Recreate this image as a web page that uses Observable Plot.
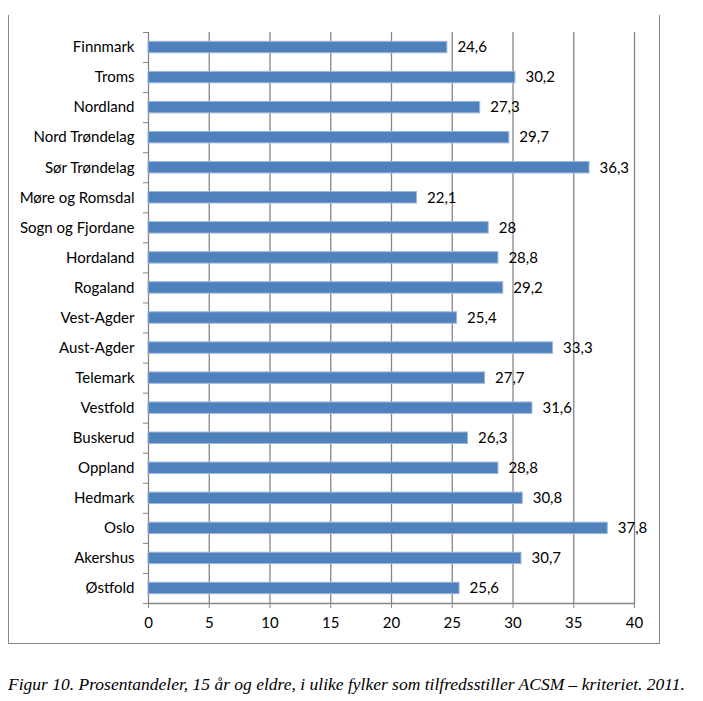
<!DOCTYPE html>
<html>
<head>
<meta charset="utf-8">
<script src="https://cdn.jsdelivr.net/npm/d3@7"></script>
<script src="https://cdn.jsdelivr.net/npm/@observablehq/plot@0.6"></script>
<style>
  html, body { margin: 0; padding: 0; background: #fff; }
  #wrap { position: relative; width: 703px; height: 701px; }
  #frame { position: absolute; left: 8px; top: 15px; width: 652px; height: 629px;
           border-left: 1.5px solid #868686; border-right: 1.5px solid #868686; border-bottom: 1.5px solid #868686; box-sizing: border-box; }
  #chart { position: absolute; left: 0; top: 0; }
  #caption { position: absolute; left: 8px; top: 674px; font-family: "Liberation Serif", serif; font-style: italic;
             font-size: 17.5px; color: #000; white-space: nowrap; }
  #chart svg text { font-size: 15px; }
</style>
</head>
<body>
<div id="wrap">
  <div id="frame"></div>
  <div id="chart"></div>
  <div id="caption">Figur 10. Prosentandeler, 15 år og eldre, i ulike fylker som tilfredsstiller ACSM – kriteriet. 2011.</div>
</div>
<script>
const counties = ["Finnmark","Troms","Nordland","Nord Trøndelag","Sør Trøndelag","Møre og Romsdal","Sogn og Fjordane","Hordaland","Rogaland","Vest-Agder","Aust-Agder","Telemark","Vestfold","Buskerud","Oppland","Hedmark","Oslo","Akershus","Østfold"];
const values = [24.6,30.2,27.3,29.7,36.3,22.1,28,28.8,29.2,25.4,33.3,27.7,31.6,26.3,28.8,30.8,37.8,30.7,25.6];
const xTicks = [0,5,10,15,20,25,30,35,40];

const rows = counties.map((c, i) => ({county: c, value: values[i], i}));
const n = counties.length;
const boundaries = d3.range(n + 1);
const fmt = v => String(v).replace(".", ",");
const font = "Lato, 'Open Sans', sans-serif";

const chart = Plot.plot({
  width: 703,
  height: 650,
  marginLeft: 148,
  marginRight: 69,
  marginTop: 32,
  marginBottom: 47,
  style: {fontFamily: font, fontSize: "15px", color: "#000", background: "transparent"},
  x: {domain: [0, 40]},
  y: {domain: [n, 0]},
  marks: [
    Plot.ruleX(xTicks.filter(t => t > 0), {stroke: "#868686", strokeOpacity: 1, strokeWidth: 1.3}),
    Plot.ruleX([0], {stroke: "#868686", strokeWidth: 1.3}),
    Plot.ruleY([n], {stroke: "#868686", strokeWidth: 1.3}),
    Plot.axisX({ticks: xTicks, tickSize: 5, tickPadding: 9, stroke: "#868686", strokeOpacity: 1, label: null}),
    Plot.axisY({ticks: boundaries, tickSize: 5, tickFormat: () => "", stroke: "#868686", strokeOpacity: 1, label: null}),
    Plot.axisY({ticks: rows.map(d => d.i + 0.5), tickSize: 0, tickPadding: 14, tickFormat: t => counties[Math.floor(t)], label: null}),
    Plot.rectX(rows, {x1: 0, x2: "value", y1: d => d.i + 0.31, y2: d => d.i + 0.69, fill: "#4F81BD", stroke: "#9EB8DA", strokeWidth: 1, inset: 0}),
    Plot.text(rows, {x: "value", y: d => d.i + 0.5, text: d => fmt(d.value), textAnchor: "start", dx: 10, fill: "#000"})
  ]
});
document.getElementById("chart").appendChild(chart);
</script>
</body>
</html>
